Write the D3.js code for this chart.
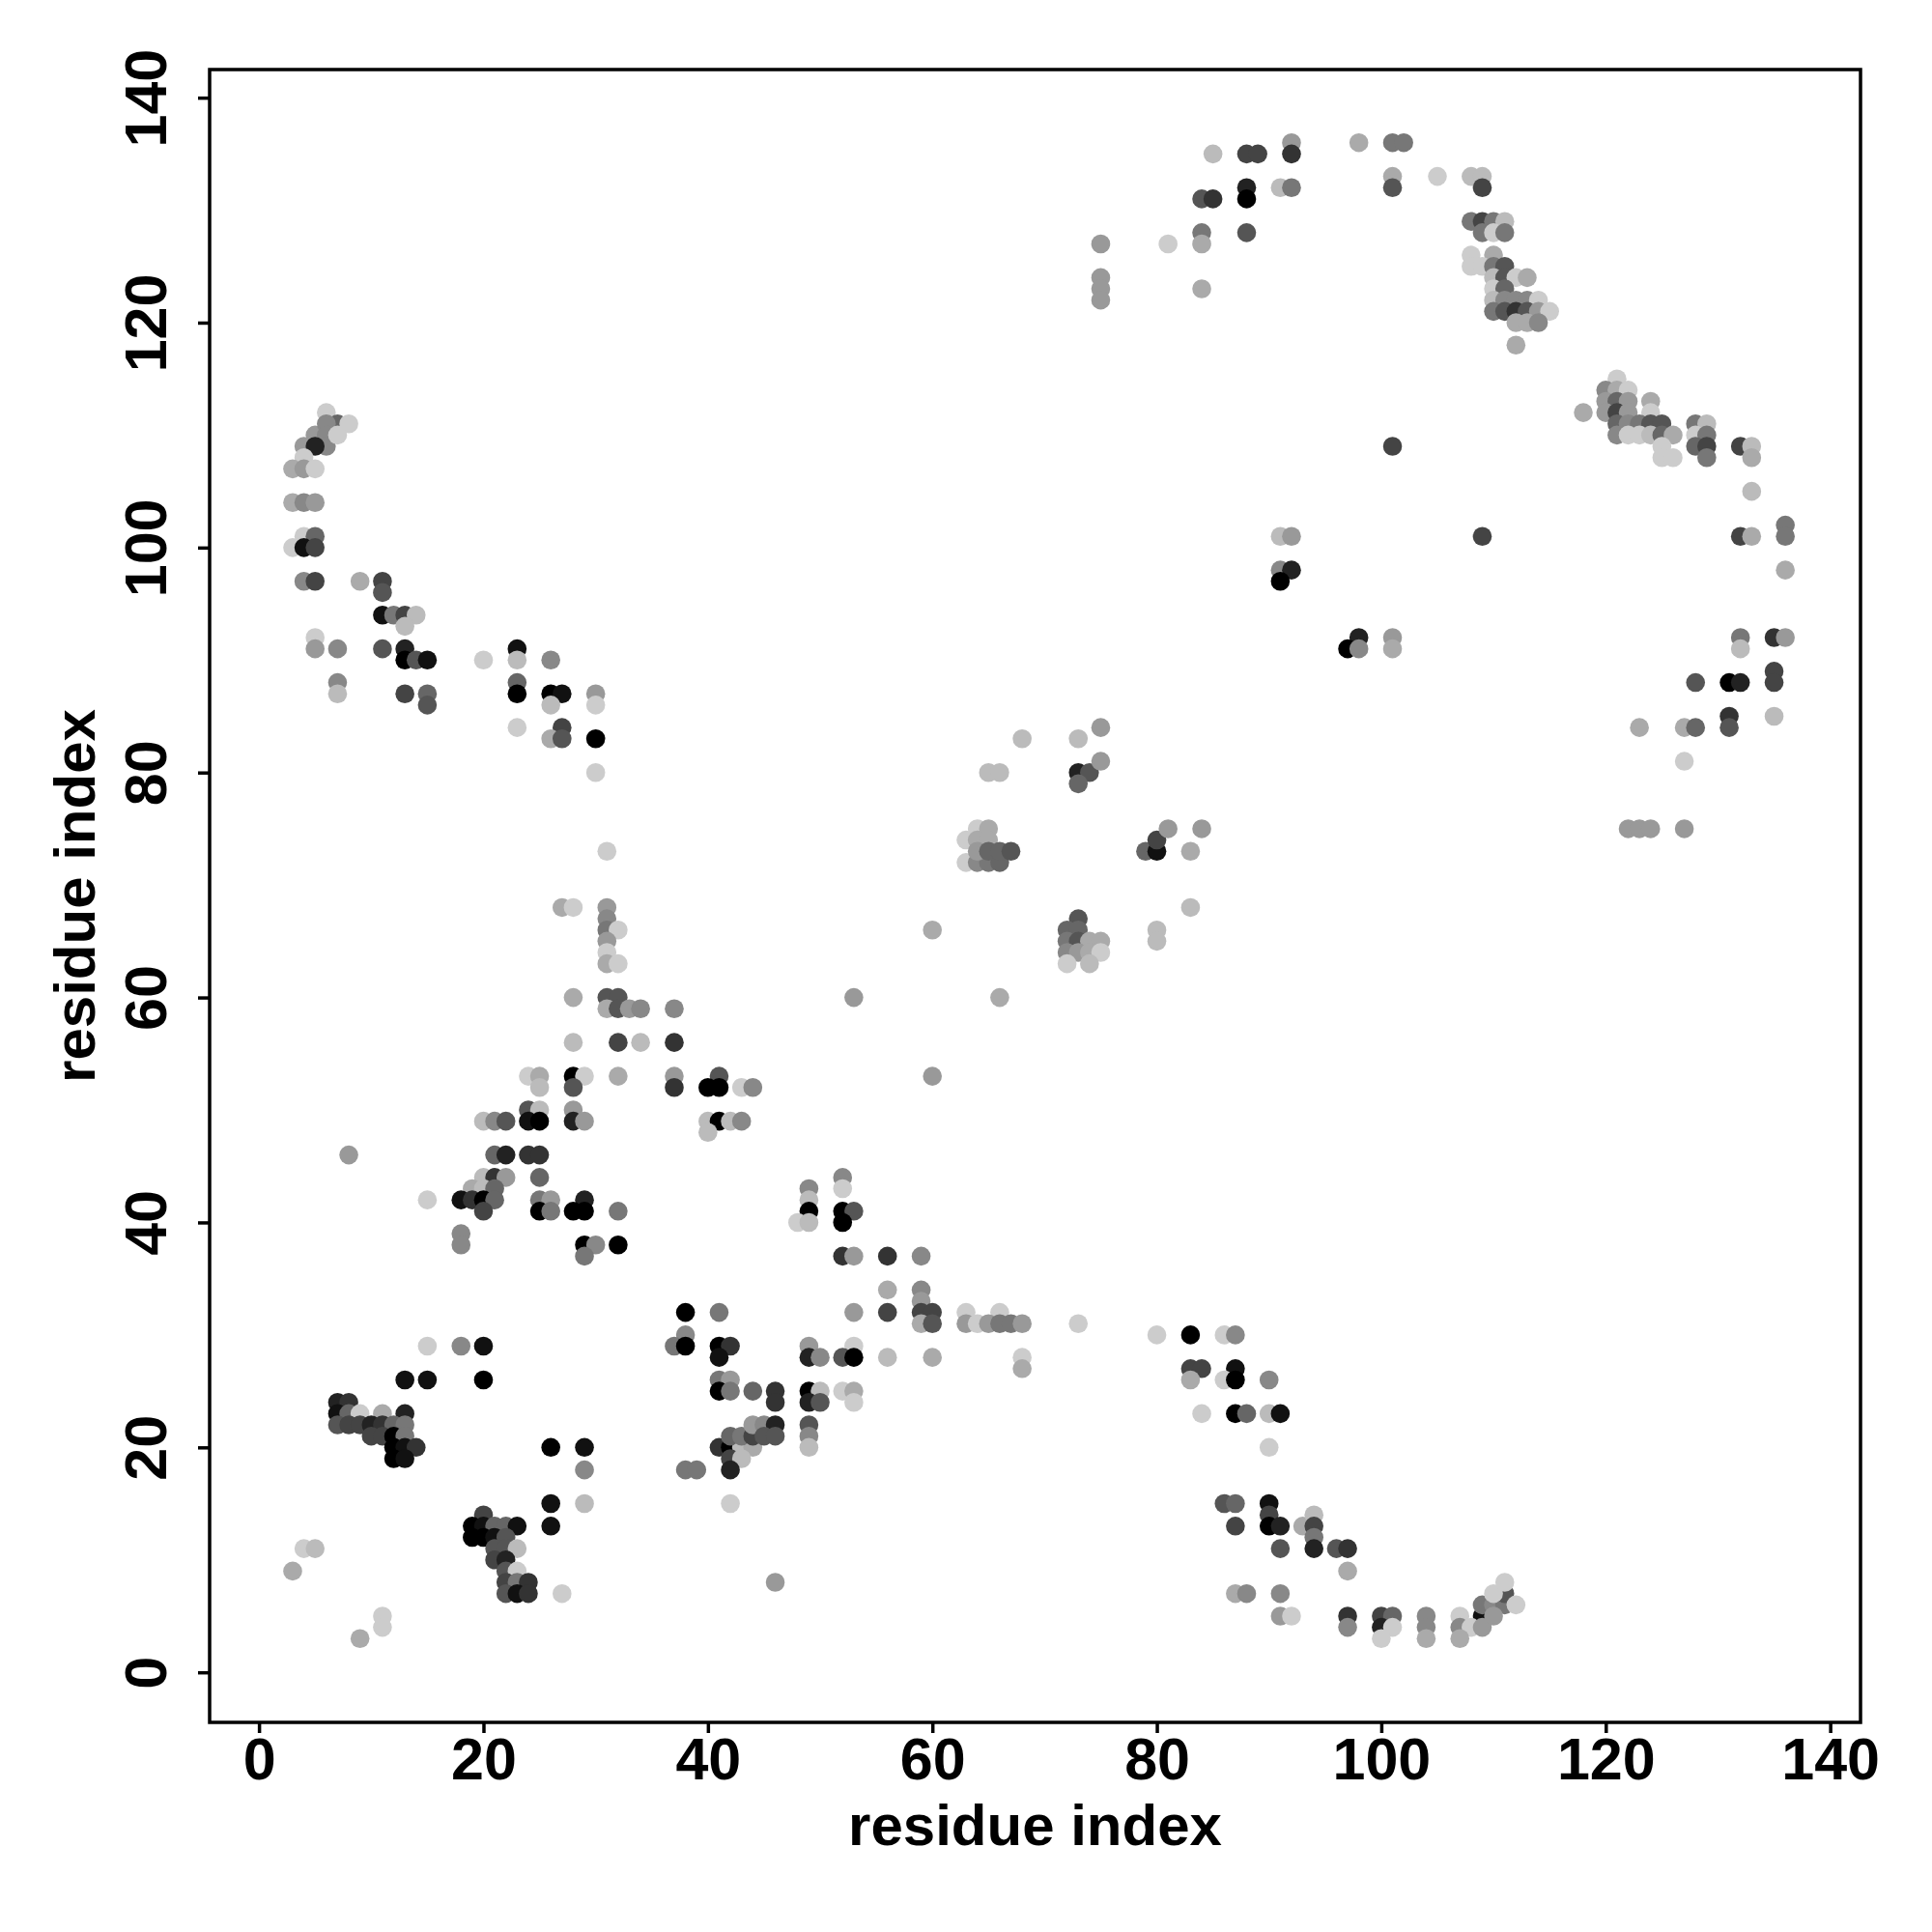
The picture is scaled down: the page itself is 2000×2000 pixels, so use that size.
<!DOCTYPE html>
<html><head><meta charset="utf-8">
<script src="https://cdn.jsdelivr.net/npm/d3@7"></script>
<style>body{margin:0;background:#fff} svg{display:block}</style>
</head><body>
<svg id="chart" width="2000" height="2000"></svg>
<script>
// ---- data: [residue i, residue j, shade level 0 (strongest/black) .. 12 (weakest/light)] ----
const xTicks = [0, 20, 40, 60, 80, 100, 120, 140];
const yTicks = [0, 20, 40, 60, 80, 100, 120, 140];
const xTitle = "residue index";
const yTitle = "residue index";

const contactsNtermUpper = [
 [6,112,12],[7,111,6],[8,111,12],[5,110,9],[6,111,8],[6,110,8],[6,109,8],[7,110,12],[4,109,9],[5,109,2],
 [4,108,12],[3,107,10],[4,107,9],[5,107,12],[3,104,10],[4,104,8],[5,104,9],[4,101,12],[5,101,6],[3,100,12],
 [4,100,1],[5,100,4],[4,97,8],[5,97,4],[9,97,10],[11,97,4],[11,96,5],[11,94,1],[12,94,7],[13,94,4],
 [14,94,11],[13,93,11]
];
const contactsLeftMid = [
 [5,92,12],[5,91,9],[7,91,8],[11,91,5],[13,91,2],[13,90,0],[14,90,5],[15,90,1],[20,90,12],[23,91,1],
 [23,90,11],[26,90,8],[7,88,8],[7,87,11],[13,87,4],[15,87,6],[15,86,5],[23,88,6],[23,87,0],[26,87,0],
 [27,87,1],[26,86,11],[30,87,9],[30,86,12],[23,84,12],[27,84,4],[26,83,10],[27,83,5],[30,83,0],[30,80,12],
 [31,73,12],[27,68,10],[28,68,12],[31,68,9],[31,67,8],[31,66,7],[32,66,12],[31,65,9],[31,64,12],[31,63,10],
 [32,63,12],[28,60,10],[31,60,5],[32,60,5],[31,59,10],[32,59,5],[33,59,9],[34,59,8],[37,59,8],[28,56,11],
 [32,56,4],[34,56,11],[37,56,3],[24,53,12],[25,53,10],[28,53,0],[29,53,12],[32,53,10],[37,53,9],[41,53,5],
 [43,52,12],[44,52,8],[25,52,11],[28,52,5],[37,52,3],[40,52,0],[41,52,0],[24,50,5],[25,50,11],[28,50,9],
 [20,49,11],[21,49,8],[22,49,5],[24,49,1],[25,49,0],[28,49,2],[29,49,9],[40,49,11],[41,49,0],[42,49,11],
 [43,49,8],[40,48,11],[8,46,9],[21,46,6],[22,46,2],[24,46,3],[25,46,3]
];
const contactsLeftLow = [
 [20,44,11],[21,44,3],[22,44,9],[25,44,6],[19,43,10],[20,43,11],[21,43,6],[15,42,12],[18,42,1],[19,42,3],
 [20,42,0],[21,42,6],[25,42,7],[26,42,9],[29,42,2],[20,41,4],[25,41,0],[26,41,7],[28,41,0],[29,41,0],
 [32,41,7],[18,39,8],[18,38,8],[29,38,0],[30,38,8],[32,38,0],[29,37,7],[38,32,0],[41,32,7],[38,30,8],
 [15,29,12],[18,29,8],[20,29,1],[37,29,7],[38,29,0],[41,29,0],[42,29,3],[41,28,1],[13,26,1],[15,26,1],
 [20,26,0],[41,26,7],[42,26,9],[41,25,0],[42,25,7],[44,25,6],[7,24,2],[8,24,3],[7,23,1],[8,23,6],
 [9,23,12],[11,23,10],[13,23,2],[7,22,5],[8,22,4],[9,22,4],[10,22,2],[11,22,3],[12,22,6],[13,22,7],
 [10,21,4],[11,21,4],[12,21,0],[13,21,7],[12,20,0],[13,20,1],[14,20,3],[12,19,0],[13,19,1],[26,20,0],
 [29,20,1],[29,18,8],[38,18,7],[39,18,7],[41,20,3],[42,20,0],[43,20,11],[44,20,10],[42,21,6],[43,21,7],
 [44,21,4],[44,22,9],[42,19,4],[43,19,11],[42,18,2],[42,15,12],[26,15,1],[29,15,11],[26,13,1],[20,14,4],
 [19,13,0],[20,13,1],[21,13,6],[22,13,6],[23,13,1],[19,12,0],[20,12,0],[21,12,1],[22,12,5],[21,11,5],
 [22,11,5],[23,11,11],[21,10,4],[22,10,2],[22,9,5],[23,9,12],[22,8,4],[23,8,7],[24,8,3],[22,7,5],
 [23,7,1],[24,7,3],[27,7,12],[4,11,12],[5,11,11],[3,9,10],[11,5,12],[11,4,12],[9,3,10]
];
const contactsCenterLow = [
 [52,44,8],[52,43,12],[49,43,8],[49,42,11],[49,41,0],[52,41,0],[53,41,5],[52,40,0],[48,40,12],[49,40,11],
 [52,37,3],[53,37,9],[56,37,3],[59,37,8],[56,34,10],[59,34,8],[59,33,9],[53,32,9],[56,32,4],[59,32,4],
 [60,32,4],[63,32,12],[66,32,12],[59,31,10],[60,31,5],[63,31,9],[64,31,12],[65,31,9],[66,31,7],[67,31,7],
 [68,31,9],[73,31,12],[80,30,12],[83,30,0],[86,30,12],[87,30,8],[49,29,9],[53,29,12],[49,28,2],[50,28,8],
 [52,28,5],[53,28,0],[56,28,11],[60,28,10],[68,28,12],[68,27,10],[83,27,4],[84,27,4],[87,27,1],[83,26,10],
 [86,26,12],[87,26,0],[90,26,8],[46,25,3],[49,25,0],[50,25,11],[52,25,12],[53,25,10],[46,24,3],[49,24,2],
 [50,24,5],[53,24,12],[84,23,12],[87,23,0],[88,23,6],[90,23,11],[91,23,1],[45,22,8],[46,22,2],[49,22,5],
 [45,21,5],[46,21,5],[49,21,8],[49,20,11],[90,20,12],[86,15,5],[87,15,6],[90,15,1],[90,14,4],[93,13,10],
 [87,13,4],[90,13,0],[91,13,2],[91,11,5],[87,7,10],[88,7,8],[91,7,8],[91,5,9],[92,5,12],[46,8,9]
];
const contactsCtermLow = [
 [94,14,11],[94,13,4],[94,12,7],[94,11,2],[96,11,5],[97,11,3],[97,9,10],[97,5,3],[100,5,4],[101,5,6],
 [104,5,8],[107,5,12],[109,5,1],[109,6,7],[110,6,8],[111,6,7],[111,7,5],[110,7,12],[111,8,12],[112,6,12],
 [97,4,8],[100,4,2],[101,4,12],[104,4,8],[107,4,8],[108,4,12],[109,4,9],[110,5,9],[100,3,12],[104,3,10],
 [107,3,10]
];
const contactsCenter = [
 [68,83,11],[73,83,11],[75,84,9],[65,80,11],[66,80,11],[73,80,2],[74,80,5],[75,81,9],[73,79,6],[64,75,12],
 [65,75,10],[63,74,12],[64,74,10],[65,74,10],[63,72,12],[64,72,8],[65,72,7],[66,72,6],[64,73,9],[65,73,6],
 [66,73,6],[67,73,5],[79,73,6],[80,73,1],[80,74,4],[81,75,9],[84,75,9],[83,73,10],[83,68,11],[60,66,10],
 [80,66,11],[80,65,11],[73,67,5],[72,66,6],[73,66,6],[72,65,7],[73,65,5],[74,65,10],[75,65,10],[72,64,8],
 [73,64,9],[74,64,10],[75,64,12],[72,63,12],[74,63,11],[53,60,9],[66,60,10],[60,53,9]
];
const contactsTopMid = [
 [85,135,11],[88,135,4],[89,135,4],[92,136,9],[92,135,3],[84,131,5],[85,131,3],[88,132,2],[88,131,0],[91,132,11],
 [92,132,7],[75,127,9],[81,127,12],[84,128,7],[84,127,10],[88,128,5],[75,124,9],[75,123,9],[75,122,9],[84,123,10],
 [91,101,11],[92,101,9],[91,98,8],[92,98,2],[91,97,0]
];
const contactsTopRight = [
 [98,136,10],[101,136,7],[102,136,7],[101,133,10],[101,132,5],[105,133,12],[108,133,11],[109,133,11],[109,132,4],[108,129,7],
 [109,129,4],[110,129,7],[111,129,11],[109,128,7],[110,128,12],[111,128,7],[108,126,12],[110,126,10],[108,125,12],[109,125,12],
 [110,125,7],[111,125,5],[110,124,11],[111,124,5],[112,124,12],[113,124,10],[110,123,12],[111,123,6],[110,122,11],[111,122,8],
 [112,122,8],[113,122,8],[114,122,12],[110,121,7],[111,121,5],[112,121,3],[113,121,5],[114,121,9],[115,121,12],[112,120,10],
 [113,120,10],[114,120,8],[112,118,10],[118,112,10],[121,115,12],[120,114,8],[121,114,10],[122,114,12],[120,113,9],[121,113,6],
 [122,113,9],[124,113,10],[120,112,9],[121,112,4],[122,112,9],[124,112,12],[121,111,6],[122,111,8],[123,111,7],[124,111,5],
 [125,111,5],[121,110,8],[122,110,12],[123,110,12],[124,110,11],[125,110,6],[126,110,10],[125,109,12],[125,108,12],[126,108,12],
 [128,111,7],[129,111,11],[128,110,12],[129,110,7],[128,109,6],[129,109,4],[129,108,7],[132,109,4],[133,109,11],[133,108,10],
 [133,105,11],[136,102,7],[136,101,7],[132,101,4],[133,101,10],[136,98,10],[101,109,4],[109,101,4]
];
const contactsRightMid = [
 [98,92,2],[97,91,0],[98,91,8],[101,92,9],[101,91,10],[132,92,7],[132,91,11],[135,92,3],[136,92,9],[128,88,5],
 [131,88,0],[132,88,2],[135,89,4],[135,88,4],[123,84,10],[127,84,10],[128,84,6],[131,85,3],[131,84,5],[135,85,11],
 [127,81,12],[122,75,9],[123,75,9],[124,75,9],[127,75,9]
];

// ---- drawing ----
const contacts = [].concat(contactsNtermUpper, contactsLeftMid, contactsLeftLow, contactsCenterLow,
  contactsCtermLow, contactsCenter, contactsTopMid, contactsTopRight, contactsRightMid);

const W = 2000, H = 2000;
const plot = {left: 217, right: 1926, top: 72, bottom: 1783};
const FONT = "'Liberation Sans', Arial, Helvetica, sans-serif";

const svg = d3.select("#chart");
svg.append("rect").attr("width", W).attr("height", H).attr("fill", "#fff");

const x = d3.scaleLinear().domain([-4.4, 142.7]).range([plot.left, plot.right]);
const y = d3.scaleLinear().domain([-4.45, 142.5]).range([plot.bottom, plot.top]);
const shade = d3.scaleLinear().domain([0, 12]).range(["#000000", "#cccccc"]);

svg.append("g").selectAll("circle").data(contacts).join("circle")
  .attr("cx", d => x(d[0]))
  .attr("cy", d => y(d[1]))
  .attr("r", 9.8)
  .attr("fill", d => shade(d[2]));

// box
svg.append("rect")
  .attr("x", plot.left).attr("y", plot.top)
  .attr("width", plot.right - plot.left).attr("height", plot.bottom - plot.top)
  .attr("fill", "none").attr("stroke", "#000").attr("stroke-width", 3.5);

// x axis
const gx = svg.append("g").attr("transform", `translate(0,${plot.bottom})`)
  .call(d3.axisBottom(x).tickValues(xTicks).tickSize(11).tickPadding(5).tickFormat(d3.format("d")));
gx.select(".domain").remove();
gx.selectAll(".tick line").attr("stroke", "#000").attr("stroke-width", 3.5);
gx.selectAll(".tick text").attr("font-family", FONT).attr("font-size", 61).attr("font-weight", "bold").attr("fill", "#000");

// y axis
const gy = svg.append("g").attr("transform", `translate(${plot.left},0)`)
  .call(d3.axisLeft(y).tickValues(yTicks).tickSize(12).tickFormat(d3.format("d")));
gy.select(".domain").remove();
gy.selectAll(".tick line").attr("stroke", "#000").attr("stroke-width", 3.5);
gy.selectAll(".tick text")
  .attr("x", 0).attr("dy", null)
  .attr("transform", "translate(-45,0) rotate(-90)")
  .attr("text-anchor", "middle")
  .attr("font-family", FONT).attr("font-size", 61).attr("font-weight", "bold").attr("fill", "#000");

// titles
svg.append("text")
  .attr("x", (plot.left + plot.right) / 2).attr("y", 1910)
  .attr("text-anchor", "middle")
  .attr("font-family", FONT).attr("font-size", 60).attr("font-weight", "bold")
  .text(xTitle);
svg.append("text")
  .attr("transform", `translate(98,${(plot.top + plot.bottom) / 2}) rotate(-90)`)
  .attr("text-anchor", "middle")
  .attr("font-family", FONT).attr("font-size", 60).attr("font-weight", "bold")
  .text(yTitle);
</script>
</body></html>
